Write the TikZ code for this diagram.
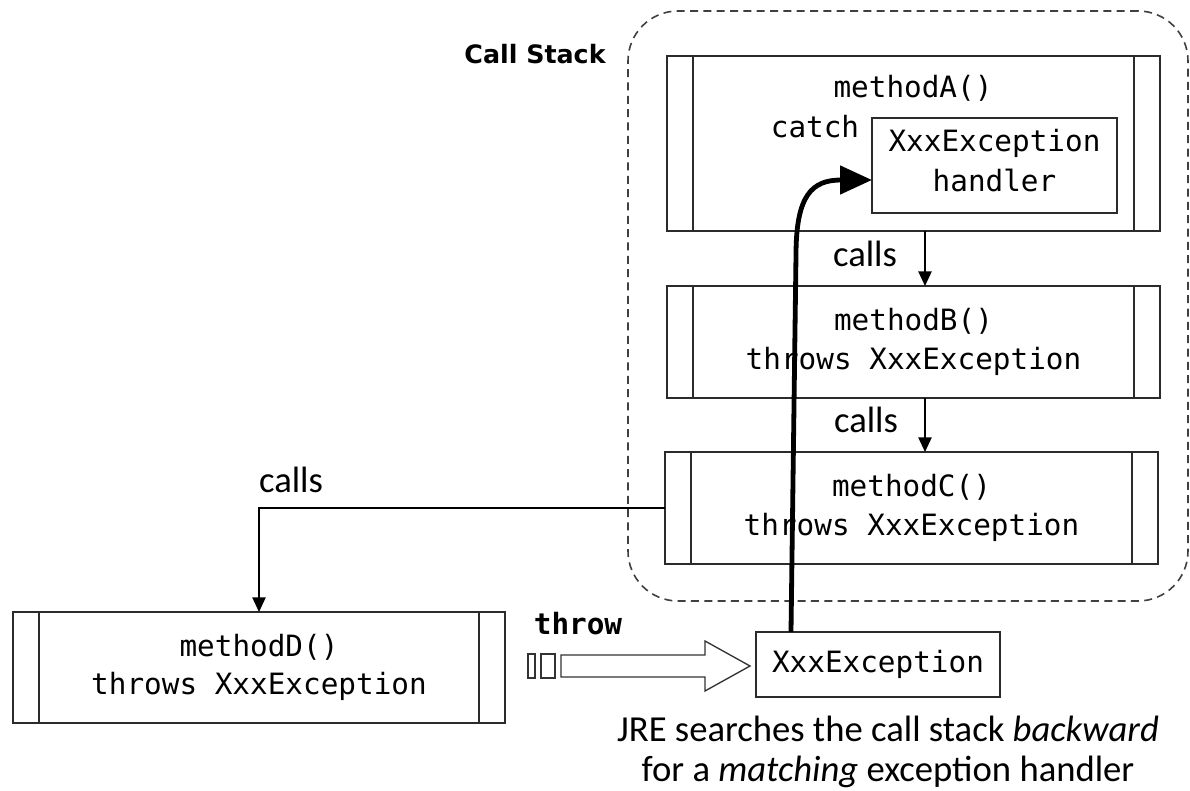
\documentclass[tikz,border=0pt]{standalone}
\usepackage{fontspec}
\setmainfont{Carlito}
\newfontfamily\codefont{DejaVu Sans Mono}
\newfontfamily\headfont{DejaVu Sans}
\usetikzlibrary{arrows.meta,calc}
\definecolor{edge}{HTML}{2B2B2B}
\begin{document}
\begin{tikzpicture}[x=0.75pt,y=-0.75pt,
  code/.style={font=\codefont\fontsize{22}{29}\selectfont},
  label/.style={font=\fontsize{27.5}{30}\selectfont},
  frame/.style={draw=edge, line width=1.2pt, inner sep=0pt, outer sep=0pt, align=center},
  method/.style={frame, code, minimum width=369.75pt, minimum height=84pt,
    path picture={
      \draw[edge, line width=1.2pt]
        ([xshift=19.5pt]path picture bounding box.north west) -- ([xshift=19.5pt]path picture bounding box.south west)
        ([xshift=-19.5pt]path picture bounding box.north east) -- ([xshift=-19.5pt]path picture bounding box.south east);}},
  callarrow/.style={draw=black, line width=1.1pt, -{Triangle[length=11pt,width=10pt]}},
]
\useasboundingbox (0,0) rectangle (1190,791);

% call stack frame
\node[draw=black!75, line width=1.2pt, dashed, dash pattern=on 6pt off 4pt, rounded corners=37.5pt,
      minimum width=420pt, minimum height=442.5pt, inner sep=0pt] (stack) at (908,306) {};
\node[font=\headfont\bfseries\fontsize{19}{22}\selectfont] (title) at (535,54) {Call Stack};

% methods on the stack
\node[method, minimum height=131.25pt] (ma) at (913.5,143.5) {};
\node[code] (manme) at (913,88) {methodA()};
\node[code] (catch) at (815,127) {catch};
\node[frame, minimum width=183.75pt, minimum height=71.25pt] (handler) at (994.5,165.5) {};
\node[code, align=center] (htext) at (994.5,161) {XxxException\\[1pt]handler};

\node[method] (mb) at (913.5,342) {methodB()\\throws XxxException};
\node[method] (mc) at (911.5,508) {methodC()\\throws XxxException};
\node[method, minimum width=369pt, minimum height=83.25pt] (md) at (259,667.5)
  {methodD()\\throws XxxException};

% calls
\draw[callarrow] ($(ma.south)+(11.5,0)$) -- ($(mb.north)+(11.5,0)$);
\node[label] (c1) at (865,254) {calls};
\draw[callarrow] ($(mb.south)+(11.5,0)$) -- ($(mc.north)+(13.5,0)$);
\node[label] (c2) at (866,420) {calls};
\draw[callarrow] (mc.west) -| (md.north);
\node[label] (c3) at (291,480) {calls};

% thrown exception
\node[frame, code, minimum width=183pt, minimum height=48.75pt] (xe) at (878,664.5) {XxxException};
\node[code, font=\codefont\bfseries\fontsize{22}{29}\selectfont] (throw) at (578,624) {throw};
\draw[black!80, line width=1pt] (528,654) rectangle (535,678);
\draw[black!80, line width=1pt] (541,654) rectangle (555,678);
\draw[black!80, line width=1pt, fill=white]
  (561,655) -- (705,655) -- (705,641) -- (750,666) -- (705,691) -- (705,677) -- (561,677) -- cycle;

% search back up the stack
\draw[black, line width=3.6pt, -{Triangle[length=24pt,width=21pt]}]
  ($(xe.north west)+(35,0)$) -- (796,255) .. controls (796,195) and (812,180) .. ($(handler.west)+(0,14.5)$);

\node[label, align=center] (note) at (888,752)
  {JRE searches the call stack \emph{backward}\\for a \emph{matching} exception handler};
\end{tikzpicture}
\end{document}
